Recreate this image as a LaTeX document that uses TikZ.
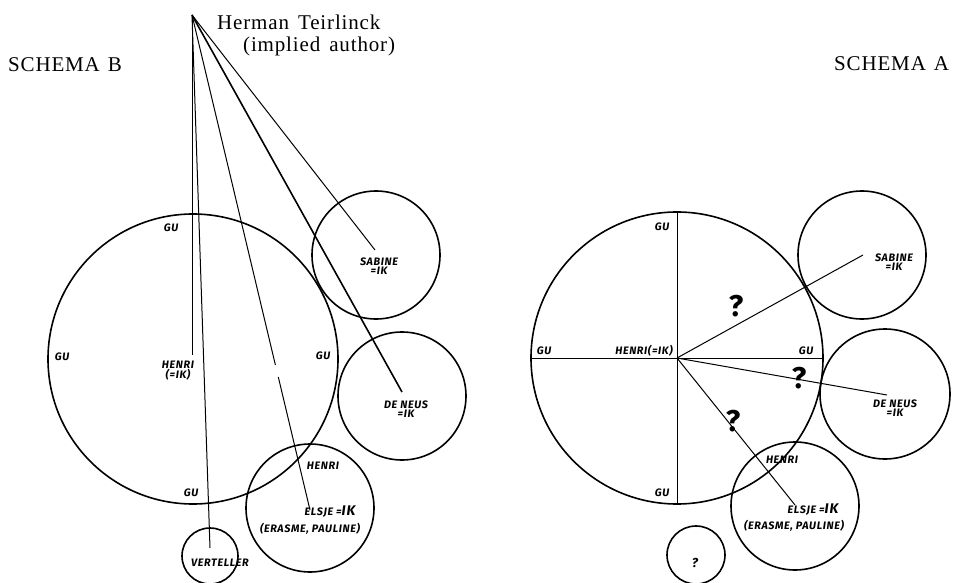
\documentclass[tikz,border=0pt]{standalone}
\usepackage{fontspec}
\setmainfont{Liberation Serif}
\newfontfamily\ttlfont{Liberation Serif}[LetterSpace=4]
\newfontfamily\hand{Fira Sans}[LetterSpace=6]
\begin{document}
\begin{tikzpicture}[x=1pt,y=-1pt,
  ring/.style={circle, draw, line width=1.6pt, inner sep=0pt},
  ray/.style={line width=1.0pt},
  thickray/.style={line width=1.6pt},
  lab/.style={font=\hand\bfseries\itshape\fontsize{10.8}{11}\selectfont, inner sep=0pt, align=center},
  qmark/.style={font=\hand\bfseries\fontsize{30}{30}\selectfont, inner sep=0pt},
  ttl/.style={font=\ttlfont\fontsize{21}{24}\selectfont, inner sep=0pt, anchor=base west}]
\useasboundingbox (0,0) rectangle (954,583);

% ---------- titles ----------
\node[ttl] (ht) at (217,30) {Herman\hspace{3pt} Teirlinck};
\node[ttl] (ia) at (243,52) {(implied\hspace{3pt} author)};
\node[ttl] (sb) at (8,72) {SCHEMA\hspace{8pt}B};
\node[ttl] (sa) at (834,71) {SCHEMA\hspace{8pt}A};

% ---------- SCHEMA B ----------
\node[ring, minimum size=290pt] (Bbig) at (193,359) {};
\node[ring, minimum size=128pt] (Bsab) at (376,255) {};
\node[ring, minimum size=128pt] (Bneus) at (402,396) {};
\node[ring, minimum size=128pt] (Belsje) at (310,508) {};
\node[ring, minimum size=56pt] (Bvert) at (210,556) {};

\coordinate (apex) at (192,15);
\coordinate (Bhen) at (192,355);
\coordinate (Bvend) at (210,548);
\coordinate (Bg1) at (275.4,365);
\coordinate (Bg2) at (278.3,377);
\coordinate (Bel) at (310,510);
\coordinate (Bne) at (402,392);
\coordinate (Bsa) at (375,250);

\draw[ray] (apex) -- (Bhen);
\draw[ray] (apex) -- (Bvend);
\draw[ray] (apex) -- (Bg1);
\draw[ray] (Bg2) -- (Bel);
\draw[thickray] (apex) -- (Bne);
\draw[ray] (apex) -- (Bsa);

\node[lab] (Bgut) at (171,228) {GU};
\node[lab] (Bgul) at (62,357) {GU};
\node[lab] (Bgur) at (323,356) {GU};
\node[lab] (Bgub) at (191,493) {GU};
\node[lab] (Bhenri) at (178,371) {HENRI\\[-1pt](=IK)};
\node[lab] (Bsabl) at (379,266) {SABINE\\[-2pt]=IK};
\node[lab] (Bneusl) at (406,409) {DE NEUS\\[-2pt]=IK};
\node[lab] (Bhenri2) at (323,466) {HENRI};
\node[lab] (Belsl) at (330,512) {ELSJE ={\fontsize{14}{14}\selectfont IK}};
\node[lab] (Beras) at (310,529) {(ERASME, PAULINE)};
\node[lab] (Bvertl) at (220,563) {VERTELLER};

% ---------- SCHEMA A ----------
\node[ring, minimum size=292pt] (Abig) at (677,358) {};
\node[ring, minimum size=128pt] (Asab) at (862,255) {};
\node[ring, minimum size=130pt] (Aneus) at (885,394) {};
\node[ring, minimum size=128pt] (Aelsje) at (795,506) {};
\node[ring, minimum size=58pt] (Aq) at (696,555) {};

\coordinate (Asa) at (863,255);
\coordinate (Ane) at (887,395);
\coordinate (Ael) at (795,505);

\draw[ray] (Abig.north) -- (Abig.south);
\draw[ray] (Abig.west) -- (Abig.east);
\draw[ray] (Abig.center) -- (Asa);
\draw[ray] (Abig.center) -- (Ane);
\draw[ray] (Abig.center) -- (Ael);

\node[lab] (Agut) at (662,227) {GU};
\node[lab] (Agul) at (544,351) {GU};
\node[lab] (Ahenri) at (644,351) {HENRI(=IK)};
\node[lab] (Agur) at (806,351) {GU};
\node[lab] (Agub) at (662,493) {GU};
\node[qmark] (Aq1) at (736,306) {?};
\node[qmark] (Aq2) at (799,378) {?};
\node[qmark] (Aq3) at (733,421) {?};
\node[lab] (Ahenri2) at (782,460) {HENRI};
\node[lab] (Aelsl) at (813,510) {ELSJE ={\fontsize{14}{14}\selectfont IK}};
\node[lab] (Aeras) at (794,526) {(ERASME, PAULINE)};
\node[lab] (Asabl) at (894,262) {SABINE\\[-2pt]=IK};
\node[lab] (Aneusl) at (895,408) {DE NEUS\\[-2pt]=IK};
\node[lab, font=\hand\bfseries\itshape\fontsize{13}{13}\selectfont] (Aql) at (695,563) {?};
\end{tikzpicture}
\end{document}
